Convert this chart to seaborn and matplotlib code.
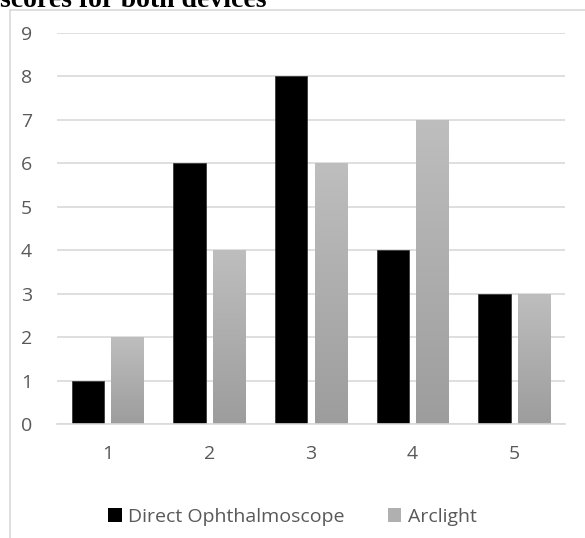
import numpy as np
import pandas as pd
import matplotlib
matplotlib.use("Agg")
import matplotlib.pyplot as plt
from matplotlib.lines import Line2D
from matplotlib.patches import Patch
import seaborn as sns

scores = ["1", "2", "3", "4", "5"]
direct_ophthalmoscope = [1, 6, 8, 4, 3]
arclight = [2, 4, 6, 7, 3]
devices = ["Direct Ophthalmoscope", "Arclight"]

df = pd.DataFrame({
    "score": scores * 2,
    "count": direct_ophthalmoscope + arclight,
    "device": [devices[0]] * len(scores) + [devices[1]] * len(scores),
})

sns.set_theme(style="white")
plt.rcParams["font.family"] = ["Open Sans", "DejaVu Sans"]

W, H = 585, 538
fig = plt.figure(figsize=(W / 100, H / 100), dpi=100)
ax = fig.add_axes([57 / W, 1 - 424 / H, (565 - 57) / W, (424 - 33) / H])

palette = {devices[0]: "#000000", devices[1]: "#a6a6a6"}
sns.barplot(data=df, x="score", y="count", hue="device", order=scores,
            hue_order=devices, palette=palette, width=0.78, gap=0.18,
            ax=ax, legend=False, saturation=1)

# vertical gradient on the light bars, darker towards the base
grad = np.linspace(0, 1, 256).reshape(-1, 1)
top_c = np.array([0.745, 0.745, 0.745])
bot_c = np.array([0.615, 0.615, 0.615])
grad_img = top_c * (1 - grad)[..., None] + bot_c * grad[..., None]
grad_img = grad_img.reshape(256, 1, 3)
for cont, dev in zip(ax.containers, devices):
    for p in cont.patches:
        if dev == devices[0]:
            p.set_edgecolor("#3a3a3a")
            p.set_linewidth(0.6)
        else:
            p.set_edgecolor("none")
            x0, y0 = p.get_x(), p.get_y()
            w, h = p.get_width(), p.get_height()
            im = ax.imshow(grad_img, extent=[x0, x0 + w, y0, y0 + h],
                           origin="upper", aspect="auto", zorder=p.get_zorder() + 0.1,
                           interpolation="bilinear")
            im.set_clip_path(p)

ax.set_xlim(-0.5, 4.5)
ax.set_ylim(0, 9)
ax.set_yticks(range(0, 10))
ax.yaxis.grid(True, color="#d9d9d9", linewidth=1.2)
ax.set_axisbelow(True)
for s in ["top", "right", "left"]:
    ax.spines[s].set_visible(False)
ax.spines["bottom"].set_color("#d9d9d9")
ax.spines["bottom"].set_linewidth(1.2)
ax.tick_params(axis="both", length=0, labelsize=14, labelcolor="#595959")
ax.tick_params(axis="y", pad=18)
ax.tick_params(axis="x", pad=15)
ax.set_xlabel("")
ax.set_ylabel("")

# chart area frame (left and top edges visible)
fig.add_artist(Line2D([10 / W, 10 / W], [0, 1 - 10 / H], color="#d9d9d9", lw=1.2))
fig.add_artist(Line2D([10 / W, 1], [1 - 10 / H, 1 - 10 / H], color="#d9d9d9", lw=1.2))

fig.text(0.0, 1 - 7 / H, "scores for both devices", family=["Liberation Serif"],
         fontweight="bold", fontsize=20, color="#000000", ha="left", va="baseline")

handles = [Patch(facecolor="#000000", edgecolor="none"),
           Patch(facecolor="#b0b0b0", edgecolor="none")]
fig.legend(handles, devices, loc="center", bbox_to_anchor=(0.5, 1 - 517 / H),
           ncol=2, frameon=False, fontsize=14, labelcolor="#595959",
           handlelength=0.7, handleheight=0.7, handletextpad=0.35, columnspacing=2.2)

fig.savefig("out.png", dpi=100)
